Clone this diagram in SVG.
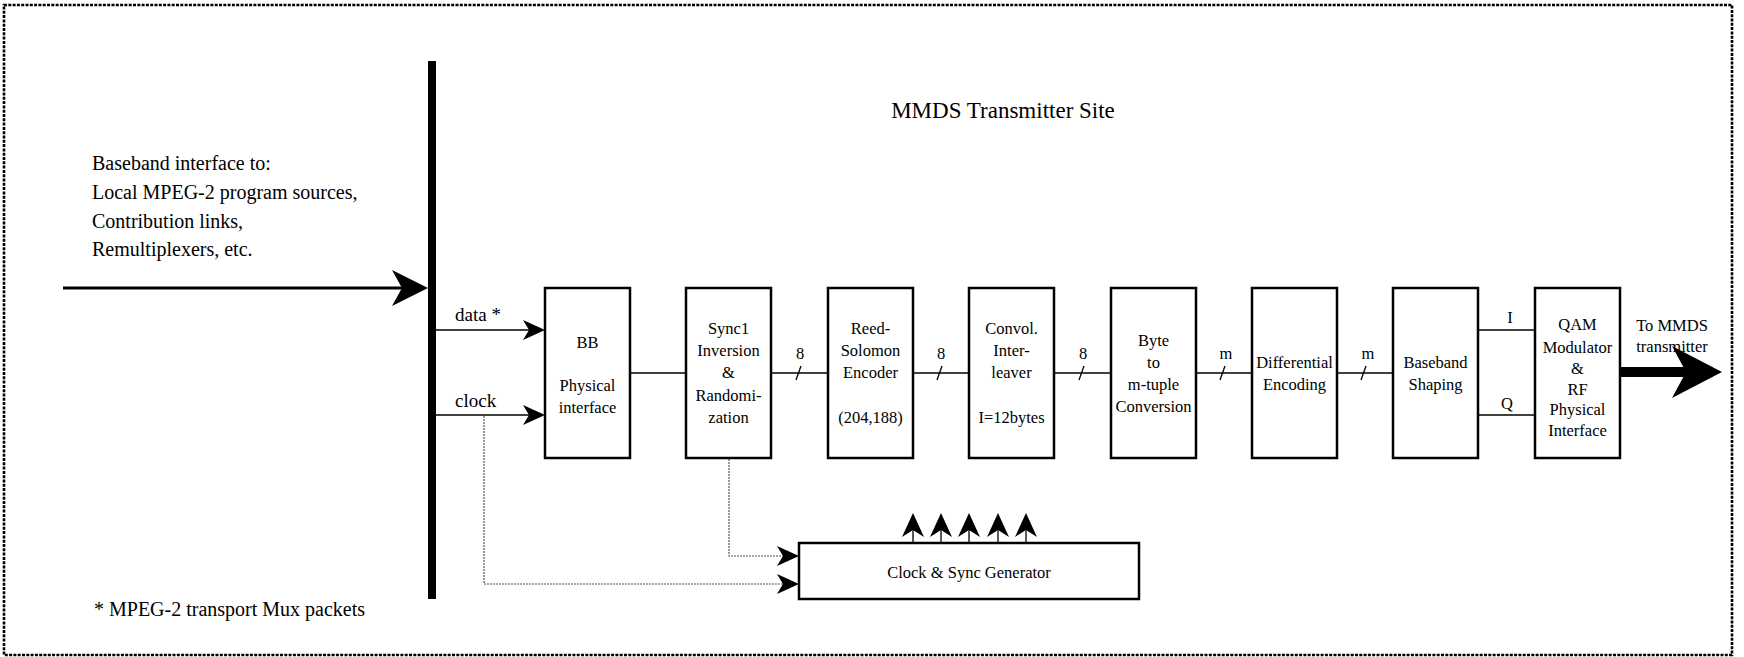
<svg xmlns="http://www.w3.org/2000/svg" width="1744" height="657" viewBox="0 0 1744 657">
<style>
text{font-family:"Liberation Serif","Times New Roman",serif;fill:#000}
.t{font-size:16.5px;text-anchor:middle}
.l{font-size:19px}
.lg{font-size:20px}
.box{fill:#fff;stroke:#000;stroke-width:2.5}
.ln{stroke:#000;stroke-width:1.3;fill:none}
.dot{stroke:#555;stroke-width:1.2;stroke-dasharray:2 1;fill:none}
</style>
<defs>
<marker id="sa" markerUnits="userSpaceOnUse" markerWidth="22" markerHeight="20" viewBox="0 0 22 20" refX="6" refY="10" orient="auto"><path d="M22,10 L0,0 L6,10 L0,20 Z" fill="#000"/></marker>
<marker id="ua" markerUnits="userSpaceOnUse" markerWidth="24" markerHeight="22" viewBox="0 0 24 22" refX="7" refY="11" orient="auto"><path d="M24,11 L0,0 L7,11 L0,22 Z" fill="#000"/></marker>
<marker id="ia" markerUnits="userSpaceOnUse" markerWidth="36" markerHeight="36" viewBox="0 0 36 36" refX="10" refY="18" orient="auto"><path d="M36,18 L0,0 L10,18 L0,36 Z" fill="#000"/></marker>
<marker id="ta" markerUnits="userSpaceOnUse" markerWidth="50" markerHeight="52" viewBox="0 0 50 52" refX="14" refY="26" orient="auto"><path d="M50,26 L0,0 L14,26 L0,52 Z" fill="#000"/></marker>
</defs>
<rect x="0" y="0" width="1744" height="657" fill="#fff"/>
<rect x="4" y="5" width="1728" height="650" fill="none" stroke="#000" stroke-width="2.6" stroke-dasharray="3 1.3"/>
<text x="1003" y="118" style="font-size:23px;text-anchor:middle">MMDS Transmitter Site</text>
<g id="source-text">
<text class="lg" x="92" y="170">Baseband interface to:</text>
<text class="lg" x="92" y="199">Local MPEG-2 program sources,</text>
<text class="lg" x="92" y="228">Contribution links,</text>
<text class="lg" x="92" y="256">Remultiplexers, etc.</text>
</g>
<text class="lg" x="94" y="616">* MPEG-2 transport Mux packets</text>
<g id="bus"><rect x="428" y="61" width="8" height="538" fill="#000"/></g>
<g id="connectors">
<line x1="63" y1="288" x2="402" y2="288" stroke="#000" stroke-width="3" marker-end="url(#ia)"/>
<line class="ln" x1="436" y1="330" x2="529" y2="330" marker-end="url(#sa)"/>
<line class="ln" x1="436" y1="415" x2="529" y2="415" marker-end="url(#sa)"/>
<text class="l" x="455" y="321">data *</text>
<text class="l" x="455" y="407">clock</text>
<line class="ln" x1="630" y1="373" x2="686" y2="373"/>
<line class="ln" x1="771" y1="373" x2="828" y2="373"/>
<line class="ln" x1="913" y1="373" x2="969" y2="373"/>
<line class="ln" x1="1054" y1="373" x2="1111" y2="373"/>
<line class="ln" x1="1196" y1="373" x2="1252" y2="373"/>
<line class="ln" x1="1337" y1="373" x2="1393" y2="373"/>
<line class="ln" x1="1478" y1="330" x2="1535" y2="330"/>
<line class="ln" x1="1478" y1="415" x2="1535" y2="415"/>
<g class="ln">
<line x1="796" y1="380" x2="801" y2="366"/>
<line x1="937" y1="380" x2="942" y2="366"/>
<line x1="1079" y1="380" x2="1084" y2="366"/>
<line x1="1220" y1="380" x2="1225" y2="366"/>
<line x1="1361" y1="380" x2="1366" y2="366"/>
</g>
<g class="t">
<text x="800" y="359">8</text>
<text x="941" y="359">8</text>
<text x="1083" y="359">8</text>
<text x="1226" y="359">m</text>
<text x="1368" y="359">m</text>
<text x="1510" y="323">I</text>
<text x="1507" y="409">Q</text>
</g>
<line x1="1620" y1="372" x2="1686" y2="372" stroke="#000" stroke-width="10" marker-end="url(#ta)"/>
<text class="t" x="1672" y="331">To MMDS</text>
<text class="t" x="1672" y="352">transmitter</text>
<polyline class="dot" points="484,416 484,584 783,584" marker-end="url(#sa)"/>
<polyline class="dot" points="729,459 729,556 783,556" marker-end="url(#sa)"/>
<g class="ln">
<line x1="913" y1="543" x2="913" y2="530" marker-end="url(#ua)"/>
<line x1="941" y1="543" x2="941" y2="530" marker-end="url(#ua)"/>
<line x1="969" y1="543" x2="969" y2="530" marker-end="url(#ua)"/>
<line x1="998" y1="543" x2="998" y2="530" marker-end="url(#ua)"/>
<line x1="1026" y1="543" x2="1026" y2="530" marker-end="url(#ua)"/>
</g>
</g>
<g id="bb"><rect class="box" x="545" y="288" width="85" height="170"/>
<text class="t" x="587.5" y="348">BB</text><text class="t" x="587.5" y="391">Physical</text><text class="t" x="587.5" y="413">interface</text></g>
<g id="sync"><rect class="box" x="686" y="288" width="85" height="170"/>
<text class="t" x="728.5" y="334">Sync1</text><text class="t" x="728.5" y="356">Inversion</text><text class="t" x="728.5" y="378">&amp;</text><text class="t" x="728.5" y="401">Randomi-</text><text class="t" x="728.5" y="423">zation</text></g>
<g id="rs"><rect class="box" x="828" y="288" width="85" height="170"/>
<text class="t" x="870.5" y="334">Reed-</text><text class="t" x="870.5" y="356">Solomon</text><text class="t" x="870.5" y="378">Encoder</text><text class="t" x="870.5" y="423">(204,188)</text></g>
<g id="interleaver"><rect class="box" x="969" y="288" width="85" height="170"/>
<text class="t" x="1011.5" y="334">Convol.</text><text class="t" x="1011.5" y="356">Inter-</text><text class="t" x="1011.5" y="378">leaver</text><text class="t" x="1011.5" y="423">I=12bytes</text></g>
<g id="byte"><rect class="box" x="1111" y="288" width="85" height="170"/>
<text class="t" x="1153.5" y="346">Byte</text><text class="t" x="1153.5" y="368">to</text><text class="t" x="1153.5" y="390">m-tuple</text><text class="t" x="1153.5" y="412">Conversion</text></g>
<g id="diff"><rect class="box" x="1252" y="288" width="85" height="170"/>
<text class="t" x="1294.5" y="368">Differential</text><text class="t" x="1294.5" y="390">Encoding</text></g>
<g id="shaping"><rect class="box" x="1393" y="288" width="85" height="170"/>
<text class="t" x="1435.5" y="368">Baseband</text><text class="t" x="1435.5" y="390">Shaping</text></g>
<g id="qam"><rect class="box" x="1535" y="288" width="85" height="170"/>
<text class="t" x="1577.5" y="330">QAM</text><text class="t" x="1577.5" y="353">Modulator</text><text class="t" x="1577.5" y="374">&amp;</text><text class="t" x="1577.5" y="395">RF</text><text class="t" x="1577.5" y="415">Physical</text><text class="t" x="1577.5" y="436">Interface</text></g>
<g id="clocksync"><rect class="box" x="799" y="543" width="340" height="56"/>
<text class="t" x="969" y="578">Clock &amp; Sync Generator</text></g>
</svg>
